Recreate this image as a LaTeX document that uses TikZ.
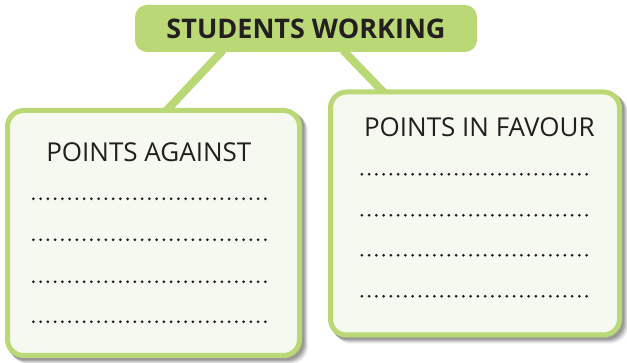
\documentclass[tikz,border=0pt]{standalone}
\usepackage{fontspec}
\setmainfont{Open Sans}
\usetikzlibrary{calc}
\definecolor{leaf}{RGB}{186,217,118}
\definecolor{paper}{RGB}{246,249,240}
\definecolor{ink}{RGB}{35,31,32}
\tikzset{
  headbox/.style={fill=leaf, rounded corners=12pt, minimum width=342pt, minimum height=47pt, inner sep=0pt},
  listbox/.style={draw=leaf, line width=5pt, fill=paper, rounded corners=16pt, inner sep=0pt},
  link/.style={leaf, line width=8pt},
  dotline/.style={ink, line width=3pt, line cap=round, dash pattern=on 0pt off 7.25pt},
  boxtitle/.style={font=\fontsize{26}{30}\selectfont, text=ink, inner sep=0pt}
}
\newcommand{\boxshadow}[1]{%
  \foreach \s/\o in {6/0.06,5/0.08,4/0.10,3/0.12,2/0.12}{%
    \fill[black, opacity=\o, rounded corners=18pt]
      ($(#1.south west)+(\s-2.5,\s+2.5)$) rectangle ($(#1.north east)+(\s+2.5,\s-2.5)$);}}
\begin{document}
\begin{tikzpicture}[x=1pt,y=-1pt]
\useasboundingbox (0,0) rectangle (627,363);
% header
\node[headbox] (head) at (306,28.5) {\fontsize{27}{30}\selectfont\bfseries\color{ink}STUDENTS WORKING};
% the two lists (placed first so the links can reach them)
\path (153.5,233) node[minimum width=292pt, minimum height=245pt, inner sep=0pt] (against) {};
\path (475,213.5) node[minimum width=289pt, minimum height=243pt, inner sep=0pt] (favour) {};
% links from the header down to each list
\draw[link] ($(head.south)+(-83,-2)$) -- ($(against.north)+(9.5,4)$);
\draw[link] ($(head.south)+(37,-2)$) -- ($(favour.north)+(-88,4)$);
% shadows
\boxshadow{against}
\boxshadow{favour}
% boxes
\node[listbox, minimum width=292pt, minimum height=245pt] (againstbox) at (against) {};
\node[listbox, minimum width=289pt, minimum height=243pt] (favourbox) at (favour) {};
% titles
\node[boxtitle] (againsttitle) at ($(against.north west)+(141.5,42)$) {POINTS AGAINST};
\node[boxtitle] (favourtitle) at ($(favour.north west)+(149,35.5)$) {POINTS IN FAVOUR};
% writing lines
\foreach \y in {88.5,129.5,171.5,211.5}{
  \draw[dotline] ($(against.north west)+(26,\y)$) -- ++(232,0);}
\foreach \y in {82.5,123.5,163.5,204.5}{
  \draw[dotline] ($(favour.north west)+(31.5,\y)$) -- ++(230,0);}
\end{tikzpicture}
\end{document}
